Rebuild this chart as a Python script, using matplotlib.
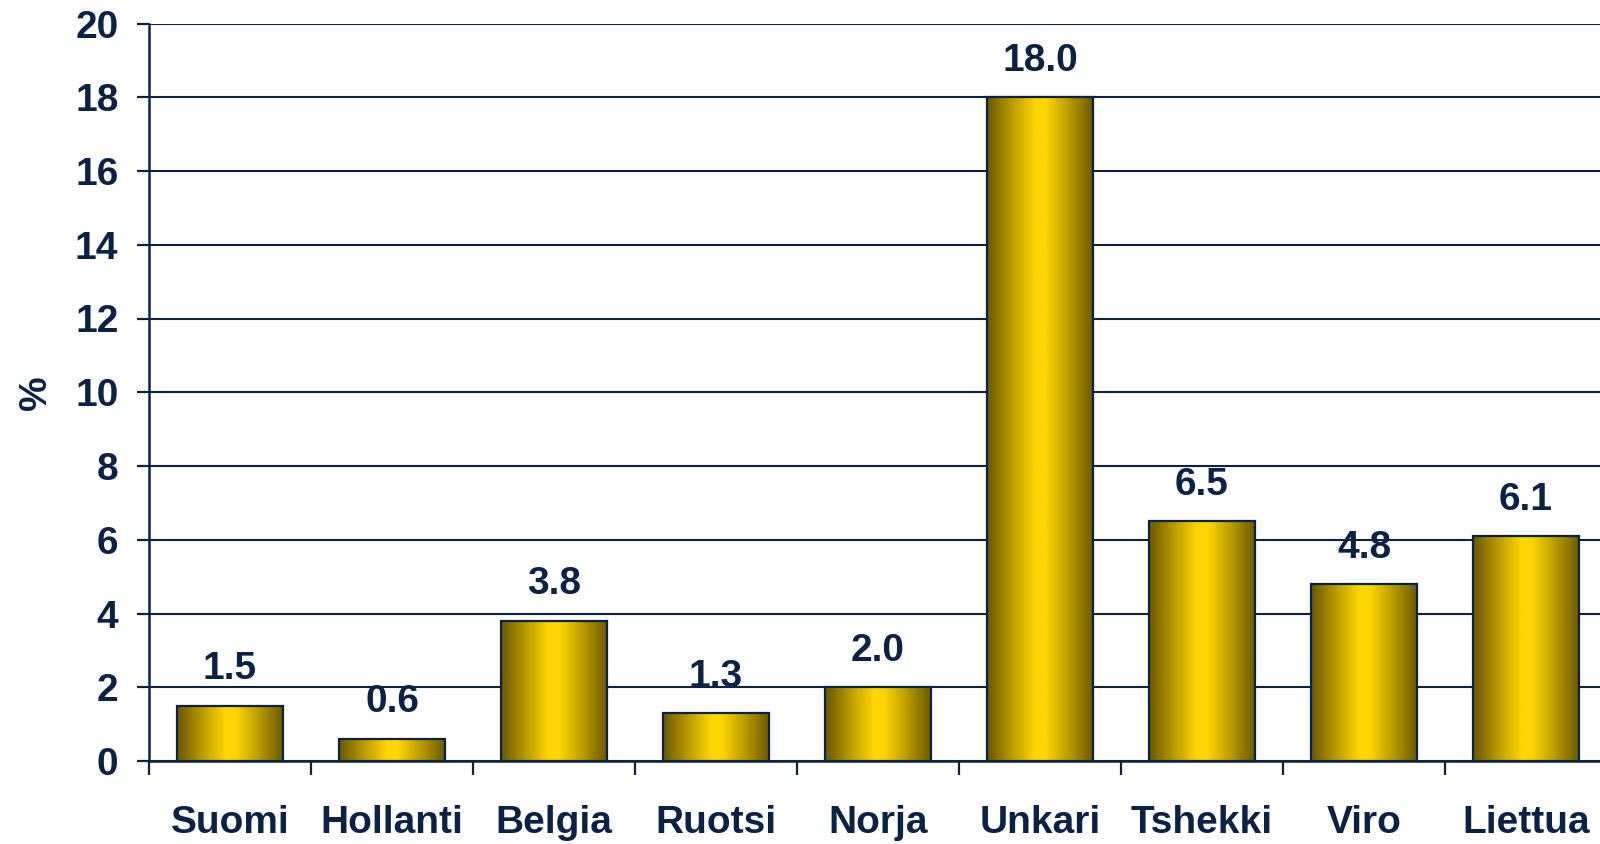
import matplotlib
matplotlib.use("Agg")
import matplotlib.pyplot as plt
import numpy as np
from matplotlib.colors import LinearSegmentedColormap

categories = ["Suomi", "Hollanti", "Belgia", "Ruotsi", "Norja", "Unkari", "Tshekki", "Viro", "Liettua"]
values = [1.5, 0.6, 3.8, 1.3, 2.0, 18.0, 6.5, 4.8, 6.1]
value_labels = ["1.5", "0.6", "3.8", "1.3", "2.0", "18.0", "6.5", "4.8", "6.1"]
yticks = [0, 2, 4, 6, 8, 10, 12, 14, 16, 18, 20]

NAVY = "#0B2244"
FS = 28
plt.rcParams['font.family'] = ['Liberation Sans', 'DejaVu Sans']

fig = plt.figure(figsize=(16, 8.44), dpi=100)
ax = fig.add_axes([149/1600, (844-761)/844, 1458/1600, 737.5/844])

cmap = LinearSegmentedColormap.from_list(
    "gold", [(0.0, "#6A5800"), (0.25, "#BFA000"), (0.45, "#FFD600"), (0.55, "#FFD600"),
             (0.75, "#BFA000"), (1.0, "#6A5800")])
grad = np.linspace(0, 1, 256).reshape(1, -1)

x = np.arange(len(categories))
bars = ax.bar(x, values, width=0.66, color="none", edgecolor=NAVY, linewidth=1.6, zorder=3)
for b in bars:
    x0, y0 = b.get_x(), b.get_y()
    w, h = b.get_width(), b.get_height()
    im = ax.imshow(grad, cmap=cmap, aspect="auto", extent=[x0, x0 + w, y0, y0 + h],
                   zorder=2.5, interpolation="bilinear")
    im.set_clip_path(b)

for xi, v, lab in zip(x, values, value_labels):
    ax.annotate(lab, (xi, v), xytext=(0, 19), textcoords="offset points",
                ha="center", va="baseline", fontsize=FS, fontweight="bold", color=NAVY)

ax.set_xlim(-0.5, len(categories) - 0.5)
ax.set_ylim(0, 20)
ax.set_yticks(yticks)
ax.set_yticklabels([str(t) for t in yticks])
ax.set_xticks(np.arange(-0.5, len(categories) + 0.5, 1.0), minor=False)
ax.set_xticklabels([])
ax.set_xticks(x, minor=True)
ax.set_xticklabels(categories, minor=True)
ax.tick_params(axis="x", which="major", length=10, width=1.6, color=NAVY, direction="out")
ax.tick_params(axis="x", which="minor", length=0, pad=32, labelsize=FS, labelcolor=NAVY)
ax.tick_params(axis="y", length=9, width=1.6, color=NAVY, pad=13, labelsize=FS, labelcolor=NAVY)
for lab in ax.get_xticklabels(minor=True) + ax.get_yticklabels():
    lab.set_fontweight("bold")

ax.yaxis.grid(True, color=NAVY, linewidth=1.5, zorder=0)
ax.set_axisbelow(True)
for s in ["top", "right"]:
    ax.spines[s].set_visible(False)
ax.spines["left"].set_color(NAVY)
ax.spines["left"].set_linewidth(1.8)
ax.spines["bottom"].set_color(NAVY)
ax.spines["bottom"].set_linewidth(1.8)

ax.set_ylabel("%", fontsize=FS, fontweight="bold", color=NAVY, labelpad=15)

fig.savefig("out.png", dpi=100)
